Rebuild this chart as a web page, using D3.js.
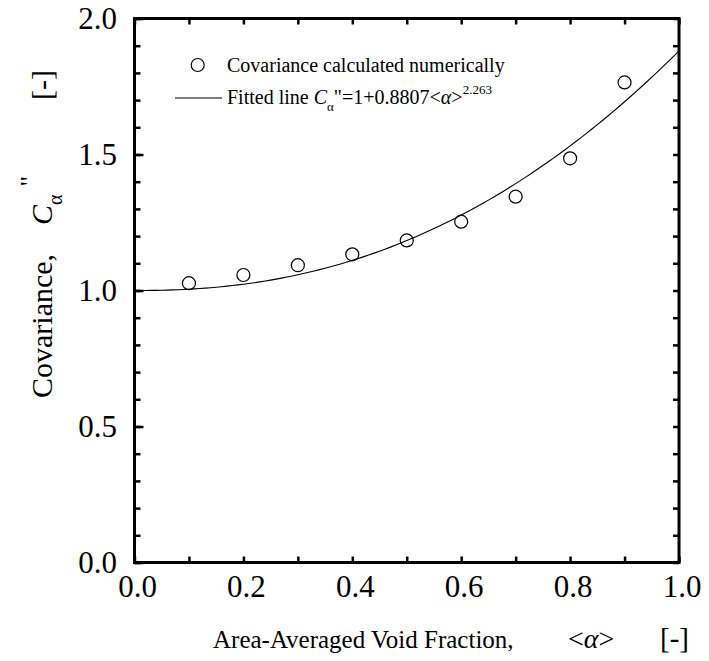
<!DOCTYPE html>
<html><head><meta charset="utf-8">
<script src="https://cdn.jsdelivr.net/npm/d3@7"></script>
<style>body{margin:0;background:#fff}svg{display:block}text{font-family:"Liberation Serif","Times New Roman",serif;fill:#000}</style>
</head><body><svg id="c" width="709" height="661"></svg>
<script>
const voidFraction = [0.1, 0.2, 0.3, 0.4, 0.5, 0.6, 0.7, 0.8, 0.9];
const covariance = [1.027, 1.057, 1.093, 1.133, 1.184, 1.253, 1.345, 1.486, 1.765];
const fitA = 0.8807, fitB = 2.263;
const xTickLabels = [0.0, 0.2, 0.4, 0.6, 0.8, 1.0];
const yTickLabels = [0.0, 0.5, 1.0, 1.5, 2.0];

const svg = d3.select("#c");
const L = 134.5, R = 679, T = 18.5, B = 562.5;
const x = d3.scaleLinear().domain([0, 1]).range([L, R]);
const y = d3.scaleLinear().domain([0, 2]).range([B, T]);

const minorX = d3.range(0, 11).map(i => i / 10);
const minorY = d3.range(0, 21).map(i => i / 10);

function drawTicks(axisGen, tr, vals, size) {
  const g = svg.append("g").attr("transform", tr)
    .call(axisGen.tickValues(vals).tickSizeInner(-size).tickSizeOuter(0).tickFormat(""));
  g.select(".domain").remove();
  g.selectAll(".tick line").attr("stroke", "#000").attr("stroke-width", 2.5);
}
drawTicks(d3.axisBottom(x), `translate(0,${B})`, minorX, 6);
drawTicks(d3.axisTop(x), `translate(0,${T})`, minorX, 6);
drawTicks(d3.axisLeft(y), `translate(${L},0)`, minorY, 6);
drawTicks(d3.axisRight(y), `translate(${R},0)`, minorY, 6);
drawTicks(d3.axisLeft(y), `translate(${L},0)`, yTickLabels, 9);

// tick labels
svg.append("g").selectAll("text").data(xTickLabels).join("text")
  .attr("x", d => x(d) + 3).attr("y", 597).attr("text-anchor", "middle")
  .attr("font-size", 31).text(d => d.toFixed(1));
svg.append("g").selectAll("text").data(yTickLabels).join("text")
  .attr("x", 117).attr("y", d => y(d) + 10.5).attr("text-anchor", "end")
  .attr("font-size", 31).text(d => d.toFixed(1));

// fitted curve
const fitX = d3.range(0, 1.0001, 0.01);
const line = d3.line().x(d => x(d)).y(d => y(1 + fitA * Math.pow(d, fitB)));
svg.append("path").datum(fitX).attr("d", line).attr("fill", "none")
  .attr("stroke", "#000").attr("stroke-width", 1.1);

// data points
svg.append("g").selectAll("circle").data(voidFraction).join("circle")
  .attr("cx", d => x(d)).attr("cy", (d, i) => y(covariance[i])).attr("r", 6.5)
  .attr("fill", "none").attr("stroke", "#000").attr("stroke-width", 1.2);

// frame
svg.append("rect").attr("x", L).attr("y", T).attr("width", R - L).attr("height", B - T)
  .attr("fill", "none").attr("stroke", "#000").attr("stroke-width", 3);

// legend
svg.append("circle").attr("cx", 197.7).attr("cy", 65).attr("r", 6.5)
  .attr("fill", "none").attr("stroke", "#000").attr("stroke-width", 1.2);
svg.append("text").attr("x", 227).attr("y", 72).attr("font-size", 20)
  .text("Covariance calculated numerically");
svg.append("line").attr("x1", 175).attr("x2", 222).attr("y1", 98).attr("y2", 98)
  .attr("stroke", "#000").attr("stroke-width", 1.1);
const lt = svg.append("text").attr("x", 227).attr("y", 104).attr("font-size", 20);
lt.append("tspan").text("Fitted line ");
lt.append("tspan").attr("font-style", "italic").text("C");
lt.append("tspan").attr("font-size", 13).attr("dy", 7).text("α");
lt.append("tspan").attr("dy", -7).text("\"=1+0.8807<");
lt.append("tspan").attr("font-style", "italic").text("α");
lt.append("tspan").text(">");
lt.append("tspan").attr("font-size", 13).attr("dy", -10).text("2.263");

// x title
const xt = svg.append("text").attr("x", 213).attr("y", 648).attr("font-size", 25);
xt.append("tspan").text("Area-Averaged Void Fraction,");
xt.append("tspan").attr("x", 568).attr("font-size", 28).text("<");
xt.append("tspan").attr("font-size", 28).attr("font-style", "italic").text("α");
xt.append("tspan").attr("font-size", 28).text(">");
xt.append("tspan").attr("x", 660).attr("font-size", 29).text("[-]");

// y title
const yt = svg.append("text").attr("transform", "translate(52,398) rotate(-90)").attr("font-size", 30);
yt.append("tspan").attr("x", 0).text("Covariance,");
yt.append("tspan").attr("x", 173).attr("font-style", "italic").text("C");
yt.append("tspan").attr("font-size", 20).attr("dy", 10).text("α");
yt.append("tspan").attr("dy", -24).attr("dx", 8).attr("font-size", 26).text("\"");
yt.append("tspan").attr("x", 298).attr("dy", 14).text("[-]");
</script></body></html>
